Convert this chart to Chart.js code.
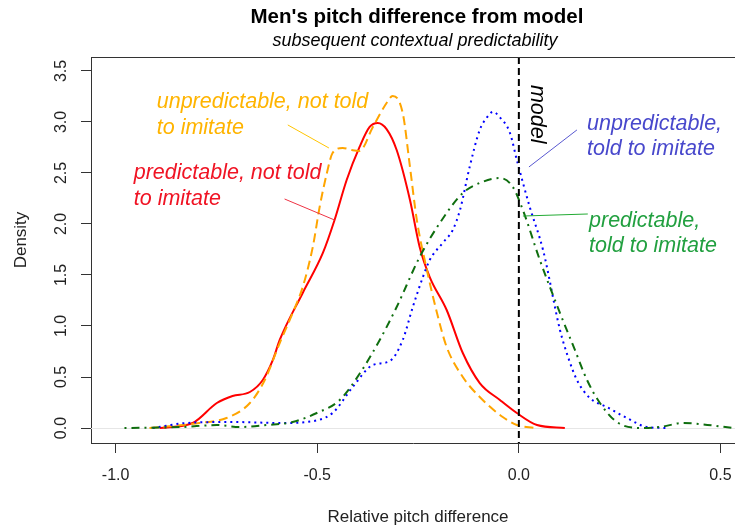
<!DOCTYPE html>
<html>
<head>
<meta charset="utf-8">
<script src="https://cdn.jsdelivr.net/npm/chart.js@4.4.1/dist/chart.umd.min.js"></script>
<style>
  html, body { margin: 0; padding: 0; background: #fff; overflow: hidden; }
  canvas { display: block; }
</style>
</head>
<body>
<canvas id="chart" width="735" height="531"></canvas>
<script>
// density curves (x = relative pitch difference, y = density)
const predNotToldX = [-0.891, -0.809, -0.749, -0.710, -0.667, -0.635, -0.610, -0.593, -0.536, -0.486, -0.457, -0.427, -0.395, -0.370, -0.350, -0.328, -0.303, -0.270, -0.246, -0.221, -0.179, -0.139, -0.097, -0.047, -0.005, 0.045, 0.114];
const predNotToldY = [0.0, 0.049, 0.245, 0.314, 0.353, 0.471, 0.667, 0.863, 1.324, 1.716, 2.039, 2.431, 2.755, 2.951, 2.990, 2.930, 2.725, 2.235, 1.775, 1.480, 1.157, 0.735, 0.441, 0.275, 0.147, 0.029, 0.0];

const unpredNotToldX = [-0.916, -0.792, -0.725, -0.667, -0.630, -0.593, -0.561, -0.536, -0.511, -0.494, -0.476, -0.462, -0.437, -0.414, -0.395, -0.362, -0.328, -0.313, -0.288, -0.270, -0.253, -0.228, -0.203, -0.179, -0.139, -0.097, -0.040, -0.005, 0.040];
const unpredNotToldY = [0.0, 0.049, 0.098, 0.245, 0.471, 0.833, 1.127, 1.382, 1.775, 2.167, 2.500, 2.696, 2.745, 2.725, 2.716, 2.951, 3.186, 3.255, 3.088, 2.559, 2.039, 1.549, 1.127, 0.794, 0.500, 0.304, 0.108, 0.029, 0.0];

const unpredToldX = [-0.908, -0.824, -0.710, -0.586, -0.526, -0.462, -0.412, -0.362, -0.320, -0.288, -0.263, -0.238, -0.221, -0.189, -0.164, -0.146, -0.122, -0.097, -0.080, -0.064, -0.048, -0.022, -0.005, 0.027, 0.060, 0.102, 0.122, 0.144, 0.176, 0.218, 0.268, 0.318, 0.367];
const unpredToldY = [0.0, 0.049, 0.059, 0.049, 0.059, 0.147, 0.402, 0.618, 0.657, 0.863, 1.186, 1.480, 1.647, 1.814, 1.941, 2.137, 2.559, 2.922, 3.040, 3.100, 3.050, 2.892, 2.627, 2.167, 1.745, 0.961, 0.696, 0.471, 0.294, 0.206, 0.098, 0.010, 0.0];

const predToldX = [-0.978, -0.834, -0.749, -0.692, -0.625, -0.561, -0.501, -0.444, -0.392, -0.345, -0.303, -0.246, -0.196, -0.139, -0.097, -0.047, -0.015, 0.010, 0.052, 0.102, 0.139, 0.169, 0.201, 0.243, 0.300, 0.350, 0.407, 0.449, 0.531];
const predToldY = [0.0, 0.010, 0.029, 0.010, 0.029, 0.059, 0.147, 0.275, 0.549, 0.863, 1.186, 1.676, 2.010, 2.304, 2.402, 2.451, 2.363, 2.137, 1.647, 1.127, 0.765, 0.471, 0.245, 0.059, 0.0, 0.010, 0.049, 0.039, 0.0];

const xTicks = [-1.0, -0.5, 0.0, 0.5];
const yTicks = [0.0, 0.5, 1.0, 1.5, 2.0, 2.5, 3.0, 3.5];
const modelX = 0.0;

// text labels, placed in data units (x = left edge, y = first baseline)
const notes = [
  { lines: ['unpredictable, not told', 'to imitate'], x: -0.898, y: 3.137, color: '#ffb400',
    from: [-0.573, 2.971], to: [-0.471, 2.745], lineColor: '#ffc400' },
  { lines: ['predictable, not told', 'to imitate'], x: -0.955, y: 2.441, color: '#f01424',
    from: [-0.581, 2.245], to: [-0.457, 2.039], lineColor: '#ee3344' },
  { lines: ['unpredictable,', 'told to imitate'], x: 0.169, y: 2.922, color: '#4848cc',
    from: [0.144, 2.922], to: [0.025, 2.559], lineColor: '#5858d0' },
  { lines: ['predictable,', 'told to imitate'], x: 0.174, y: 1.971, color: '#22a040',
    from: [0.171, 2.098], to: [0.010, 2.078], lineColor: '#22aa33' }
];

const FONT = '"Liberation Sans", Arial, sans-serif';
const AXIS = '#333';

function pts(xs, ys) {
  return xs.map((x, i) => ({ x: x, y: ys[i] }));
}

const extras = {
  id: 'extras',
  beforeDatasetsDraw(chart) {
    const { ctx, chartArea: a, scales: { y } } = chart;
    // faint zero line
    ctx.save();
    ctx.strokeStyle = '#e6e6e6';
    ctx.lineWidth = 1;
    const y0 = Math.round(y.getPixelForValue(0)) + 0.5;
    ctx.beginPath();
    ctx.moveTo(a.left, y0);
    ctx.lineTo(a.right, y0);
    ctx.stroke();
    ctx.restore();
  },
  afterDatasetsDraw(chart) {
    const { ctx, chartArea: a, scales: { x, y } } = chart;
    ctx.save();

    // model line
    const mx = x.getPixelForValue(modelX);
    ctx.strokeStyle = '#000';
    ctx.lineWidth = 2;
    ctx.setLineDash([7, 4]);
    ctx.beginPath();
    ctx.moveTo(mx, a.top);
    ctx.lineTo(mx, a.bottom);
    ctx.stroke();
    ctx.setLineDash([]);

    // top edge of the box
    ctx.strokeStyle = AXIS;
    ctx.lineWidth = 1;
    ctx.beginPath();
    ctx.moveTo(a.left, Math.round(a.top) + 0.5);
    ctx.lineTo(a.right, Math.round(a.top) + 0.5);
    ctx.stroke();

    // annotations
    ctx.font = 'italic 21.5px ' + FONT;
    ctx.textAlign = 'left';
    ctx.textBaseline = 'alphabetic';
    notes.forEach(n => {
      const tx = x.getPixelForValue(n.x);
      const ty = y.getPixelForValue(n.y);
      ctx.fillStyle = n.color;
      n.lines.forEach((line, i) => ctx.fillText(line, tx, ty + i * 25.5));
      ctx.strokeStyle = n.lineColor;
      ctx.lineWidth = 1;
      ctx.beginPath();
      ctx.moveTo(x.getPixelForValue(n.from[0]), y.getPixelForValue(n.from[1]));
      ctx.lineTo(x.getPixelForValue(n.to[0]), y.getPixelForValue(n.to[1]));
      ctx.stroke();
    });

    // "model" written downwards next to the line
    ctx.fillStyle = '#000';
    ctx.translate(mx + 12, y.getPixelForValue(3.363));
    ctx.rotate(Math.PI / 2);
    ctx.fillText('model', 0, 0);
    ctx.restore();
  },
  afterDraw(chart) {
    const { ctx, chartArea: a, scales: { y } } = chart;
    const cx = 417;
    ctx.save();
    ctx.fillStyle = '#000';
    ctx.textAlign = 'center';
    ctx.textBaseline = 'alphabetic';
    ctx.font = 'bold 20.5px ' + FONT;
    ctx.fillText("Men's pitch difference from model", cx, 23);
    ctx.font = 'italic 18px ' + FONT;
    ctx.fillText('subsequent contextual predictability', cx - 2, 46);

    ctx.fillStyle = '#222';
    ctx.font = '17px ' + FONT;
    ctx.fillText('Relative pitch difference', cx + 1, 522);

    // rotated y tick labels
    ctx.font = '16px ' + FONT;
    yTicks.forEach(v => {
      ctx.save();
      ctx.translate(66, y.getPixelForValue(v));
      ctx.rotate(-Math.PI / 2);
      ctx.fillText(v.toFixed(1), 0, 0);
      ctx.restore();
    });

    ctx.font = '17px ' + FONT;
    ctx.translate(26, (a.top + a.bottom) / 2 - 10);
    ctx.rotate(-Math.PI / 2);
    ctx.fillText('Density', 0, 0);
    ctx.restore();
  }
};

const curveStyle = { pointRadius: 0, fill: false, cubicInterpolationMode: 'monotone', borderWidth: 2 };

new Chart(document.getElementById('chart'), {
  type: 'line',
  data: {
    datasets: [
      { ...curveStyle, label: 'predictable, told to imitate', data: pts(predToldX, predToldY),
        borderColor: '#0f6e0f', borderDash: [2, 5, 8, 5] },
      { ...curveStyle, label: 'unpredictable, told to imitate', data: pts(unpredToldX, unpredToldY),
        borderColor: '#0000ff', borderDash: [2, 4] },
      { ...curveStyle, label: 'unpredictable, not told to imitate', data: pts(unpredNotToldX, unpredNotToldY),
        borderColor: '#ffa500', borderDash: [9, 5] },
      { ...curveStyle, label: 'predictable, not told to imitate', data: pts(predNotToldX, predNotToldY),
        borderColor: '#ff0000' }
    ]
  },
  options: {
    responsive: false,
    animation: false,
    devicePixelRatio: 1,
    layout: { padding: { top: 57, left: 0, right: 0, bottom: 0 } },
    plugins: { legend: { display: false }, tooltip: { enabled: false }, title: { display: false } },
    scales: {
      x: {
        type: 'linear',
        min: -1.061,
        max: 0.536,
        afterBuildTicks: s => { s.ticks = xTicks.map(v => ({ value: v })); },
        afterFit: s => { s.height = 88; s.paddingLeft = 0; s.paddingRight = 0; },
        grid: { drawOnChartArea: false, drawTicks: true, tickLength: 10, color: AXIS },
        border: { display: true, color: AXIS, width: 1 },
        ticks: { color: '#222', padding: 13, maxRotation: 0, font: { family: FONT, size: 16 },
                 callback: v => v.toFixed(1) }
      },
      y: {
        type: 'linear',
        min: -0.147,
        max: 3.637,
        afterBuildTicks: s => { s.ticks = yTicks.map(v => ({ value: v })); },
        afterFit: s => { s.width = 91; s.paddingTop = 0; s.paddingBottom = 0; },
        grid: { drawOnChartArea: false, drawTicks: true, tickLength: 10, color: AXIS },
        border: { display: true, color: AXIS, width: 1 },
        ticks: { display: false }
      }
    }
  },
  plugins: [extras]
});
</script>
</body>
</html>
